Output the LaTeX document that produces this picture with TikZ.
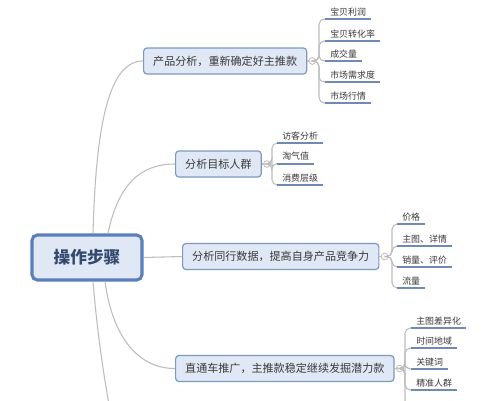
\documentclass[tikz,border=0pt]{standalone}
\usepackage{fontspec}
\newfontfamily\cjk{Noto Sans CJK SC}
\usetikzlibrary{calc}
\definecolor{boxfill}{HTML}{DFE8F4}
\definecolor{boxdraw}{HTML}{7D99C2}
\definecolor{rootdraw}{HTML}{5B7FBA}
\definecolor{txt}{HTML}{3A3A3A}
\definecolor{roottxt}{HTML}{34496E}
\definecolor{conn}{HTML}{BDBDBD}
\definecolor{uline}{HTML}{6F8BB3}
\tikzset{
  rootbox/.style={draw=rootdraw, fill=boxfill, line width=2.3pt, rounded corners=4pt,
    minimum width=82.5pt, minimum height=33.75pt, inner sep=0pt,
    font=\cjk\fontsize{12.5}{14}\selectfont\bfseries, text=roottxt},
  branchbox/.style={draw=boxdraw, fill=boxfill, line width=0.9pt, rounded corners=2.5pt,
    minimum height=19.5pt, inner xsep=7.2pt, inner ysep=0pt, anchor=west,
    font=\cjk\fontsize{8.3}{10}\selectfont, text=txt},
  leaf/.style={anchor=south west, inner xsep=3.75pt, inner ysep=2pt,
    font=\cjk\fontsize{6.7}{8}\selectfont, text=txt},
  uln/.style={draw=uline, line width=1.5pt},
  conn/.style={draw=conn, line width=0.8pt},
  sub/.style={draw=conn, line width=0.8pt, rounded corners=4pt},
  knob/.style={circle, draw=conn, fill=white, line width=0.6pt, minimum size=5pt, inner sep=0pt},
}
\begin{document}
\begin{tikzpicture}[x=0.75pt,y=-0.75pt]
\useasboundingbox (0,0) rectangle (502,400);
\fill[white] (0,0) rectangle (502,400);
\clip (0,0) rectangle (502,400);

% root
\node[rootbox] (root) at (87,257.5) {操作步骤};

% branches
\node[branchbox] (b1) at (143,61) {产品分析，重新确定好主推款};
\node[branchbox] (b2) at (175,164) {分析目标人群};
\node[branchbox] (b3) at (182,256.5) {分析同行数据，提高自身产品竞争力};
\node[branchbox] (b4) at (175,368.5) {直通车推广，主推款稳定继续发掘潜力款};

% root connectors
\draw[conn] ($(root.north)+(6,0)$) .. controls (96,120) and (110,61) .. (b1.west);
\draw[conn] ($(root.north)+(21,0)$) .. controls (118,185) and (140,164) .. (b2.west);
\draw[conn] (root.east) -- (b3.west);
\draw[conn] ($(root.south)+(18,0)$) .. controls (113,340) and (140,368.5) .. (b4.west);
\coordinate (b5) at (112,420);
\draw[conn] ($(root.south)+(6,0)$) .. controls (97,330) and (104,380) .. (b5);

% knobs
\node[knob] (k1) at ($(b1.east)+(5,0)$) {};
\node[knob] (k2) at ($(b2.east)+(5,0)$) {};
\node[knob] (k3) at ($(b3.east)+(5,0)$) {};
\node[knob] (k4) at ($(b4.east)+(5,0)$) {};
\draw[conn] (b1.east) -- (k1.west);
\draw[conn] (b2.east) -- (k2.west);
\draw[conn] (b3.east) -- (k3.west);
\draw[conn] (b4.east) -- (k4.west);

% branch 1 leaves
\node[leaf] (l11) at (325,19) {宝贝利润};
\node[leaf] (l12) at (325,41) {宝贝转化率};
\node[leaf] (l13) at (325,61) {成交量};
\node[leaf] (l14) at (325,82) {市场需求度};
\node[leaf] (l15) at (325,103) {市场行情};
\foreach \n in {l11,l12,l13,l14,l15}{
  \draw[sub] (k1.east) -- (319,61) |- (\n.south west);
  \draw[uln] (\n.south west) -- (\n.south east);
}

% branch 2 leaves
\node[leaf] (l21) at (277,143) {访客分析};
\node[leaf] (l22) at (277,163.5) {淘气值};
\node[leaf] (l23) at (277,185) {消费层级};
\foreach \n in {l21,l22,l23}{
  \draw[sub] (k2.east) -- (272,164) |- (\n.south west);
  \draw[uln] (\n.south west) -- (\n.south east);
}

% branch 3 leaves
\node[leaf] (l31) at (397,224) {价格};
\node[leaf] (l32) at (397,246) {主图、详情};
\node[leaf] (l33) at (397,267) {销量、评价};
\node[leaf] (l34) at (397,288) {流量};
\foreach \n in {l31,l32,l33,l34}{
  \draw[sub] (k3.east) -- (392,256.5) |- (\n.south west);
  \draw[uln] (\n.south west) -- (\n.south east);
}

% branch 4 leaves
\node[leaf] (l41) at (411,328) {主图差异化};
\node[leaf] (l42) at (411,348) {时间地域};
\node[leaf] (l43) at (411,369) {关键词};
\node[leaf] (l44) at (411,390) {精准人群};
\foreach \n in {l41,l42,l43,l44}{
  \draw[sub] (k4.east) -- (405,368.5) |- (\n.south west);
  \draw[uln] (\n.south west) -- (\n.south east);
}
\coordinate (l45) at (405,430);
\draw[sub] (k4.east) -- (405,368.5) -- (l45);
\end{tikzpicture}
\end{document}
